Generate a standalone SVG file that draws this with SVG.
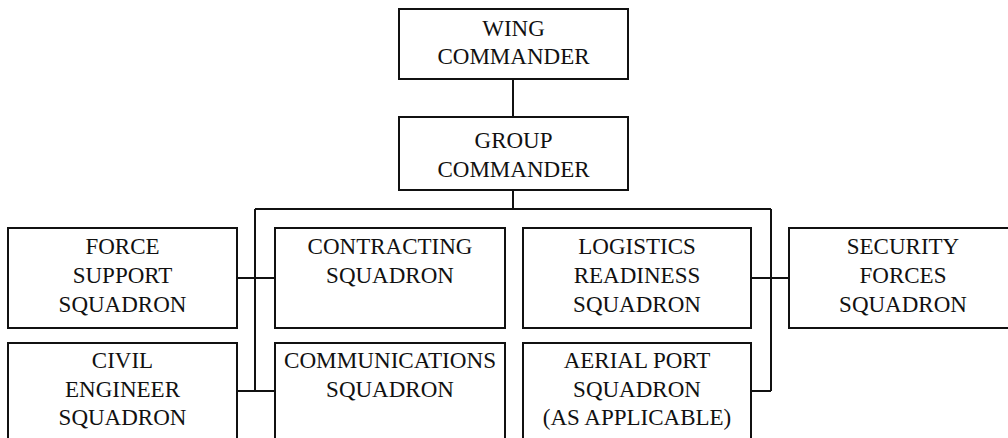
<svg xmlns="http://www.w3.org/2000/svg" width="1008" height="438" viewBox="0 0 1008 438">
<style>
.box{fill:#fff;stroke:#111;stroke-width:2}
.ln{fill:none;stroke:#111;stroke-width:2}
text{font-family:"Liberation Serif","Times New Roman",serif;font-size:23px;fill:#111;text-anchor:middle}
</style>
<rect width="1008" height="438" fill="#fff"/>
<g id="connectors">
<path class="ln" d="M513 79V117M513 190V209M255 209H771M255 209V391M771 209V391M237 278H275M237 391H275M751 278H789M751 391H771"/>
</g>
<g id="wing"><rect class="box" x="399" y="9" width="229" height="70"/><text x="513.5" y="36">WING</text><text x="513.5" y="64">COMMANDER</text></g>
<g id="group"><rect class="box" x="399" y="117" width="229" height="73"/><text x="513.5" y="148">GROUP</text><text x="513.5" y="177">COMMANDER</text></g>
<g id="force"><rect class="box" x="8" y="228" width="229" height="100"/><text x="122.5" y="254">FORCE</text><text x="122.5" y="283">SUPPORT</text><text x="122.5" y="312">SQUADRON</text></g>
<g id="contracting"><rect class="box" x="275" y="228" width="230" height="100"/><text x="390" y="254">CONTRACTING</text><text x="390" y="283">SQUADRON</text></g>
<g id="logistics"><rect class="box" x="523" y="228" width="228" height="100"/><text x="637" y="254">LOGISTICS</text><text x="637" y="283">READINESS</text><text x="637" y="312">SQUADRON</text></g>
<g id="security"><rect class="box" x="789" y="228" width="229" height="100"/><text x="903" y="254">SECURITY</text><text x="903" y="283">FORCES</text><text x="903" y="312">SQUADRON</text></g>
<g id="civil"><rect class="box" x="8" y="343" width="229" height="110"/><text x="122.5" y="368">CIVIL</text><text x="122.5" y="397">ENGINEER</text><text x="122.5" y="425">SQUADRON</text></g>
<g id="communications"><rect class="box" x="275" y="343" width="230" height="110"/><text x="390" y="368" textLength="212" lengthAdjust="spacingAndGlyphs">COMMUNICATIONS</text><text x="390" y="397">SQUADRON</text></g>
<g id="aerial"><rect class="box" x="523" y="343" width="228" height="110"/><text x="637" y="368">AERIAL PORT</text><text x="637" y="397">SQUADRON</text><text x="637" y="425">(AS APPLICABLE)</text></g>
</svg>
